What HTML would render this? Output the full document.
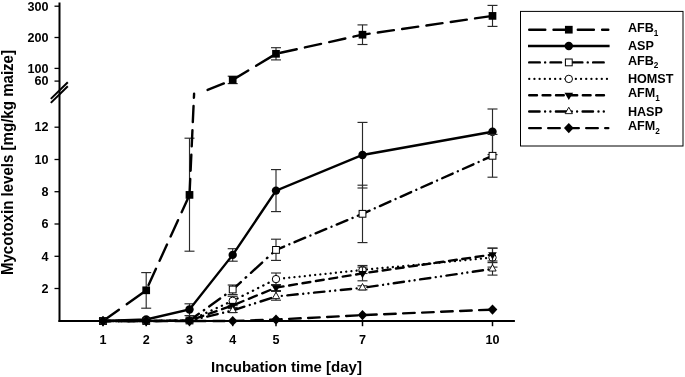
<!DOCTYPE html>
<html><head><meta charset="utf-8"><title>Mycotoxin levels</title>
<style>
html,body{margin:0;padding:0;background:#fff;}
svg{display:block;}
text{font-family:"Liberation Sans",Arial,sans-serif;font-weight:bold;fill:#000;}
.t12{font-size:12.6px;}
.t15{font-size:15px;}
</style></head><body>
<svg width="685" height="377" viewBox="0 0 685 377">
<rect width="685" height="377" fill="#fff"/>
<line x1="59.50" y1="2.50" x2="59.50" y2="322.10" stroke="#000" stroke-width="2" />
<line x1="58.50" y1="321.10" x2="514.90" y2="321.10" stroke="#000" stroke-width="2" />
<line x1="54.50" y1="6.20" x2="59.50" y2="6.20" stroke="#000" stroke-width="1.3" />
<line x1="54.50" y1="37.50" x2="59.50" y2="37.50" stroke="#000" stroke-width="1.3" />
<line x1="54.50" y1="68.40" x2="59.50" y2="68.40" stroke="#000" stroke-width="1.3" />
<line x1="54.50" y1="81.10" x2="59.50" y2="81.10" stroke="#000" stroke-width="1.3" />
<line x1="54.50" y1="127.20" x2="59.50" y2="127.20" stroke="#000" stroke-width="1.3" />
<line x1="54.50" y1="159.50" x2="59.50" y2="159.50" stroke="#000" stroke-width="1.3" />
<line x1="54.50" y1="191.70" x2="59.50" y2="191.70" stroke="#000" stroke-width="1.3" />
<line x1="54.50" y1="224.00" x2="59.50" y2="224.00" stroke="#000" stroke-width="1.3" />
<line x1="54.50" y1="256.30" x2="59.50" y2="256.30" stroke="#000" stroke-width="1.3" />
<line x1="54.50" y1="288.50" x2="59.50" y2="288.50" stroke="#000" stroke-width="1.3" />
<line x1="103.00" y1="321.10" x2="103.00" y2="326.20" stroke="#000" stroke-width="1.5" />
<line x1="146.20" y1="321.10" x2="146.20" y2="326.20" stroke="#000" stroke-width="1.5" />
<line x1="189.50" y1="321.10" x2="189.50" y2="326.20" stroke="#000" stroke-width="1.5" />
<line x1="232.70" y1="321.10" x2="232.70" y2="326.20" stroke="#000" stroke-width="1.5" />
<line x1="276.00" y1="321.10" x2="276.00" y2="326.20" stroke="#000" stroke-width="1.5" />
<line x1="362.50" y1="321.10" x2="362.50" y2="326.20" stroke="#000" stroke-width="1.5" />
<line x1="492.50" y1="321.10" x2="492.50" y2="326.20" stroke="#000" stroke-width="1.5" />
<line x1="50.80" y1="98.90" x2="67.80" y2="82.20" stroke="#000" stroke-width="2" />
<line x1="50.80" y1="102.90" x2="67.80" y2="86.30" stroke="#000" stroke-width="2" />
<line x1="146.20" y1="272.60" x2="146.20" y2="308.20" stroke="#2a2a2a" stroke-width="1.15" />
<line x1="141.20" y1="272.60" x2="151.20" y2="272.60" stroke="#2a2a2a" stroke-width="1.15" />
<line x1="141.20" y1="308.20" x2="151.20" y2="308.20" stroke="#2a2a2a" stroke-width="1.15" />
<line x1="189.50" y1="138.20" x2="189.50" y2="251.20" stroke="#2a2a2a" stroke-width="1.15" />
<line x1="184.50" y1="138.20" x2="194.50" y2="138.20" stroke="#2a2a2a" stroke-width="1.15" />
<line x1="184.50" y1="251.20" x2="194.50" y2="251.20" stroke="#2a2a2a" stroke-width="1.15" />
<line x1="232.70" y1="76.20" x2="232.70" y2="83.60" stroke="#2a2a2a" stroke-width="1.15" />
<line x1="227.70" y1="76.20" x2="237.70" y2="76.20" stroke="#2a2a2a" stroke-width="1.15" />
<line x1="227.70" y1="83.60" x2="237.70" y2="83.60" stroke="#2a2a2a" stroke-width="1.15" />
<line x1="276.00" y1="47.70" x2="276.00" y2="59.90" stroke="#2a2a2a" stroke-width="1.15" />
<line x1="271.00" y1="47.70" x2="281.00" y2="47.70" stroke="#2a2a2a" stroke-width="1.15" />
<line x1="271.00" y1="59.90" x2="281.00" y2="59.90" stroke="#2a2a2a" stroke-width="1.15" />
<line x1="362.50" y1="24.90" x2="362.50" y2="44.50" stroke="#2a2a2a" stroke-width="1.15" />
<line x1="357.50" y1="24.90" x2="367.50" y2="24.90" stroke="#2a2a2a" stroke-width="1.15" />
<line x1="357.50" y1="44.50" x2="367.50" y2="44.50" stroke="#2a2a2a" stroke-width="1.15" />
<line x1="492.50" y1="5.40" x2="492.50" y2="26.40" stroke="#2a2a2a" stroke-width="1.15" />
<line x1="487.50" y1="5.40" x2="497.50" y2="5.40" stroke="#2a2a2a" stroke-width="1.15" />
<line x1="487.50" y1="26.40" x2="497.50" y2="26.40" stroke="#2a2a2a" stroke-width="1.15" />
<line x1="103.00" y1="321.00" x2="146.20" y2="290.30" stroke="#000" stroke-width="2.4" stroke-dasharray="20.296 9.515" stroke-dashoffset="0.763" stroke-linecap="round"/>
<line x1="146.20" y1="290.30" x2="189.50" y2="194.90" stroke="#000" stroke-width="2.4" stroke-dasharray="17.916 8.769" stroke-dashoffset="20.983" stroke-linecap="round"/>
<line x1="189.50" y1="194.90" x2="194.10" y2="93.60" stroke="#000" stroke-width="2.4" stroke-dasharray="16.119 8.206" stroke-dashoffset="0.101" stroke-linecap="round"/>
<line x1="206.50" y1="90.39" x2="232.70" y2="79.90" stroke="#000" stroke-width="2.4" stroke-dasharray="17.528 8.648" stroke-dashoffset="-1.200" stroke-linecap="round"/>
<line x1="232.70" y1="79.90" x2="276.00" y2="53.80" stroke="#000" stroke-width="2.4" stroke-dasharray="19.201 9.172" stroke-dashoffset="1.018" stroke-linecap="round"/>
<line x1="276.00" y1="53.80" x2="362.50" y2="34.70" stroke="#000" stroke-width="2.4" stroke-dasharray="16.546 8.340" stroke-dashoffset="20.203" stroke-linecap="round"/>
<line x1="362.50" y1="34.70" x2="492.50" y2="15.90" stroke="#000" stroke-width="2.4" stroke-dasharray="16.292 8.260" stroke-dashoffset="9.106" stroke-linecap="round"/>
<rect x="99.15" y="317.15" width="7.7" height="7.7" fill="#000"/>
<rect x="142.35" y="286.45" width="7.7" height="7.7" fill="#000"/>
<rect x="185.65" y="191.05" width="7.7" height="7.7" fill="#000"/>
<rect x="228.85" y="76.05" width="7.7" height="7.7" fill="#000"/>
<rect x="272.15" y="49.95" width="7.7" height="7.7" fill="#000"/>
<rect x="358.65" y="30.85" width="7.7" height="7.7" fill="#000"/>
<rect x="488.65" y="12.05" width="7.7" height="7.7" fill="#000"/>
<line x1="189.50" y1="303.80" x2="189.50" y2="315.60" stroke="#2a2a2a" stroke-width="1.15" />
<line x1="184.50" y1="303.80" x2="194.50" y2="303.80" stroke="#2a2a2a" stroke-width="1.15" />
<line x1="184.50" y1="315.60" x2="194.50" y2="315.60" stroke="#2a2a2a" stroke-width="1.15" />
<line x1="232.70" y1="248.70" x2="232.70" y2="261.20" stroke="#2a2a2a" stroke-width="1.15" />
<line x1="227.70" y1="248.70" x2="237.70" y2="248.70" stroke="#2a2a2a" stroke-width="1.15" />
<line x1="227.70" y1="261.20" x2="237.70" y2="261.20" stroke="#2a2a2a" stroke-width="1.15" />
<line x1="276.00" y1="169.60" x2="276.00" y2="211.60" stroke="#2a2a2a" stroke-width="1.15" />
<line x1="271.00" y1="169.60" x2="281.00" y2="169.60" stroke="#2a2a2a" stroke-width="1.15" />
<line x1="271.00" y1="211.60" x2="281.00" y2="211.60" stroke="#2a2a2a" stroke-width="1.15" />
<line x1="362.50" y1="122.40" x2="362.50" y2="188.00" stroke="#2a2a2a" stroke-width="1.15" />
<line x1="357.50" y1="122.40" x2="367.50" y2="122.40" stroke="#2a2a2a" stroke-width="1.15" />
<line x1="357.50" y1="188.00" x2="367.50" y2="188.00" stroke="#2a2a2a" stroke-width="1.15" />
<line x1="492.50" y1="109.00" x2="492.50" y2="154.60" stroke="#2a2a2a" stroke-width="1.15" />
<line x1="487.50" y1="109.00" x2="497.50" y2="109.00" stroke="#2a2a2a" stroke-width="1.15" />
<line x1="487.50" y1="154.60" x2="497.50" y2="154.60" stroke="#2a2a2a" stroke-width="1.15" />
<polyline points="103.00,321.00 146.20,319.50 189.50,309.50 232.70,254.90 276.00,190.60 362.50,155.00 492.50,131.80" fill="none" stroke="#000" stroke-width="2.4"/>
<circle cx="103.00" cy="321.00" r="4.2" fill="#000"/>
<circle cx="146.20" cy="319.50" r="4.2" fill="#000"/>
<circle cx="189.50" cy="309.50" r="4.2" fill="#000"/>
<circle cx="232.70" cy="254.90" r="4.2" fill="#000"/>
<circle cx="276.00" cy="190.60" r="4.2" fill="#000"/>
<circle cx="362.50" cy="155.00" r="4.2" fill="#000"/>
<circle cx="492.50" cy="131.80" r="4.2" fill="#000"/>
<line x1="232.70" y1="285.00" x2="232.70" y2="294.60" stroke="#2a2a2a" stroke-width="1.15" />
<line x1="227.70" y1="285.00" x2="237.70" y2="285.00" stroke="#2a2a2a" stroke-width="1.15" />
<line x1="227.70" y1="294.60" x2="237.70" y2="294.60" stroke="#2a2a2a" stroke-width="1.15" />
<line x1="276.00" y1="239.20" x2="276.00" y2="260.40" stroke="#2a2a2a" stroke-width="1.15" />
<line x1="271.00" y1="239.20" x2="281.00" y2="239.20" stroke="#2a2a2a" stroke-width="1.15" />
<line x1="271.00" y1="260.40" x2="281.00" y2="260.40" stroke="#2a2a2a" stroke-width="1.15" />
<line x1="362.50" y1="185.20" x2="362.50" y2="242.60" stroke="#2a2a2a" stroke-width="1.15" />
<line x1="357.50" y1="185.20" x2="367.50" y2="185.20" stroke="#2a2a2a" stroke-width="1.15" />
<line x1="357.50" y1="242.60" x2="367.50" y2="242.60" stroke="#2a2a2a" stroke-width="1.15" />
<line x1="492.50" y1="134.40" x2="492.50" y2="177.20" stroke="#2a2a2a" stroke-width="1.15" />
<line x1="487.50" y1="134.40" x2="497.50" y2="134.40" stroke="#2a2a2a" stroke-width="1.15" />
<line x1="487.50" y1="177.20" x2="497.50" y2="177.20" stroke="#2a2a2a" stroke-width="1.15" />
<line x1="103.00" y1="321.00" x2="146.20" y2="321.00" stroke="#000" stroke-width="2.4" stroke-dasharray="10.600 5.345 0.010 5.345" stroke-dashoffset="0.150" stroke-linecap="round"/>
<line x1="146.20" y1="321.00" x2="189.50" y2="320.50" stroke="#000" stroke-width="2.4" stroke-dasharray="10.601 5.345 0.010 5.345" stroke-dashoffset="0.750" stroke-linecap="round"/>
<line x1="189.50" y1="320.50" x2="232.70" y2="289.50" stroke="#000" stroke-width="2.4" stroke-dasharray="13.601 6.092 0.431 6.092" stroke-dashoffset="2.062" stroke-linecap="round"/>
<line x1="232.70" y1="289.50" x2="276.00" y2="249.90" stroke="#000" stroke-width="2.4" stroke-dasharray="15.217 6.465 0.717 6.465" stroke-dashoffset="4.153" stroke-linecap="round"/>
<line x1="276.00" y1="249.90" x2="362.50" y2="213.80" stroke="#000" stroke-width="2.4" stroke-dasharray="11.546 5.618 0.067 5.618" stroke-dashoffset="2.769" stroke-linecap="round"/>
<line x1="362.50" y1="213.80" x2="492.50" y2="155.80" stroke="#000" stroke-width="2.4" stroke-dasharray="11.479 5.603 0.056 5.603" stroke-dashoffset="3.711" stroke-linecap="round"/>
<rect x="99.60" y="317.60" width="6.8" height="6.8" fill="#fff" stroke="#000" stroke-width="1"/>
<rect x="142.80" y="317.60" width="6.8" height="6.8" fill="#fff" stroke="#000" stroke-width="1"/>
<rect x="186.10" y="317.10" width="6.8" height="6.8" fill="#fff" stroke="#000" stroke-width="1"/>
<rect x="229.30" y="286.10" width="6.8" height="6.8" fill="#fff" stroke="#000" stroke-width="1"/>
<rect x="272.60" y="246.50" width="6.8" height="6.8" fill="#fff" stroke="#000" stroke-width="1"/>
<rect x="359.10" y="210.40" width="6.8" height="6.8" fill="#fff" stroke="#000" stroke-width="1"/>
<rect x="489.10" y="152.40" width="6.8" height="6.8" fill="#fff" stroke="#000" stroke-width="1"/>
<line x1="232.70" y1="296.30" x2="232.70" y2="305.30" stroke="#2a2a2a" stroke-width="1.15" />
<line x1="227.70" y1="296.30" x2="237.70" y2="296.30" stroke="#2a2a2a" stroke-width="1.15" />
<line x1="227.70" y1="305.30" x2="237.70" y2="305.30" stroke="#2a2a2a" stroke-width="1.15" />
<line x1="276.00" y1="273.00" x2="276.00" y2="285.20" stroke="#2a2a2a" stroke-width="1.15" />
<line x1="271.00" y1="273.00" x2="281.00" y2="273.00" stroke="#2a2a2a" stroke-width="1.15" />
<line x1="271.00" y1="285.20" x2="281.00" y2="285.20" stroke="#2a2a2a" stroke-width="1.15" />
<line x1="362.50" y1="265.50" x2="362.50" y2="273.50" stroke="#2a2a2a" stroke-width="1.15" />
<line x1="357.50" y1="265.50" x2="367.50" y2="265.50" stroke="#2a2a2a" stroke-width="1.15" />
<line x1="357.50" y1="273.50" x2="367.50" y2="273.50" stroke="#2a2a2a" stroke-width="1.15" />
<line x1="492.50" y1="248.10" x2="492.50" y2="267.10" stroke="#2a2a2a" stroke-width="1.15" />
<line x1="487.50" y1="248.10" x2="497.50" y2="248.10" stroke="#2a2a2a" stroke-width="1.15" />
<line x1="487.50" y1="267.10" x2="497.50" y2="267.10" stroke="#2a2a2a" stroke-width="1.15" />
<line x1="103.00" y1="321.00" x2="146.20" y2="321.00" stroke="#000" stroke-width="2.3" stroke-dasharray="0.010 5.170" stroke-dashoffset="0.240" stroke-linecap="round"/>
<line x1="146.20" y1="321.00" x2="189.50" y2="320.50" stroke="#000" stroke-width="2.3" stroke-dasharray="0.010 5.170" stroke-dashoffset="2.000" stroke-linecap="round"/>
<line x1="189.50" y1="320.50" x2="232.70" y2="300.80" stroke="#000" stroke-width="2.3" stroke-dasharray="0.228 5.465" stroke-dashoffset="4.356" stroke-linecap="round"/>
<line x1="232.70" y1="300.80" x2="276.00" y2="279.10" stroke="#000" stroke-width="2.3" stroke-dasharray="0.273 5.521" stroke-dashoffset="0.628" stroke-linecap="round"/>
<line x1="276.00" y1="279.10" x2="362.50" y2="269.90" stroke="#000" stroke-width="2.3" stroke-dasharray="0.013 5.196" stroke-dashoffset="2.319" stroke-linecap="round"/>
<line x1="362.50" y1="269.90" x2="492.50" y2="257.60" stroke="#000" stroke-width="2.3" stroke-dasharray="0.010 5.193" stroke-dashoffset="0.748" stroke-linecap="round"/>
<circle cx="103.00" cy="321.00" r="3.7" fill="#fff" stroke="#000" stroke-width="1"/>
<circle cx="146.20" cy="321.00" r="3.7" fill="#fff" stroke="#000" stroke-width="1"/>
<circle cx="189.50" cy="320.50" r="3.7" fill="#fff" stroke="#000" stroke-width="1"/>
<circle cx="232.70" cy="300.80" r="3.7" fill="#fff" stroke="#000" stroke-width="1"/>
<circle cx="276.00" cy="279.10" r="3.7" fill="#fff" stroke="#000" stroke-width="1"/>
<circle cx="362.50" cy="269.90" r="3.7" fill="#fff" stroke="#000" stroke-width="1"/>
<circle cx="492.50" cy="257.60" r="3.7" fill="#fff" stroke="#000" stroke-width="1"/>
<line x1="232.70" y1="303.40" x2="232.70" y2="307.40" stroke="#2a2a2a" stroke-width="1.15" />
<line x1="227.70" y1="303.40" x2="237.70" y2="303.40" stroke="#2a2a2a" stroke-width="1.15" />
<line x1="227.70" y1="307.40" x2="237.70" y2="307.40" stroke="#2a2a2a" stroke-width="1.15" />
<line x1="276.00" y1="284.60" x2="276.00" y2="290.60" stroke="#2a2a2a" stroke-width="1.15" />
<line x1="271.00" y1="284.60" x2="281.00" y2="284.60" stroke="#2a2a2a" stroke-width="1.15" />
<line x1="271.00" y1="290.60" x2="281.00" y2="290.60" stroke="#2a2a2a" stroke-width="1.15" />
<line x1="362.50" y1="267.10" x2="362.50" y2="280.80" stroke="#2a2a2a" stroke-width="1.15" />
<line x1="357.50" y1="267.10" x2="367.50" y2="267.10" stroke="#2a2a2a" stroke-width="1.15" />
<line x1="357.50" y1="280.80" x2="367.50" y2="280.80" stroke="#2a2a2a" stroke-width="1.15" />
<line x1="492.50" y1="248.20" x2="492.50" y2="261.00" stroke="#2a2a2a" stroke-width="1.15" />
<line x1="487.50" y1="248.20" x2="497.50" y2="248.20" stroke="#2a2a2a" stroke-width="1.15" />
<line x1="487.50" y1="261.00" x2="497.50" y2="261.00" stroke="#2a2a2a" stroke-width="1.15" />
<line x1="103.00" y1="321.00" x2="146.20" y2="321.00" stroke="#000" stroke-width="2.4" stroke-dasharray="7.800 5.600" stroke-dashoffset="1.500" stroke-linecap="round"/>
<line x1="146.20" y1="321.00" x2="189.50" y2="320.70" stroke="#000" stroke-width="2.4" stroke-dasharray="7.800 5.600" stroke-dashoffset="4.500" stroke-linecap="round"/>
<line x1="189.50" y1="320.70" x2="232.70" y2="305.40" stroke="#000" stroke-width="2.4" stroke-dasharray="8.421 5.795" stroke-dashoffset="8.136" stroke-linecap="round"/>
<line x1="232.70" y1="305.40" x2="276.00" y2="287.60" stroke="#000" stroke-width="2.4" stroke-dasharray="8.628 5.860" stroke-dashoffset="11.558" stroke-linecap="round"/>
<line x1="276.00" y1="287.60" x2="362.50" y2="273.40" stroke="#000" stroke-width="2.4" stroke-dasharray="7.937 5.643" stroke-dashoffset="0.320" stroke-linecap="round"/>
<line x1="362.50" y1="273.40" x2="492.50" y2="254.60" stroke="#000" stroke-width="2.4" stroke-dasharray="7.803 5.601" stroke-dashoffset="6.402" stroke-linecap="round"/>
<polygon points="98.70,318.57 107.30,318.57 103.00,325.87" fill="#000"/>
<polygon points="141.90,318.57 150.50,318.57 146.20,325.87" fill="#000"/>
<polygon points="185.20,318.27 193.80,318.27 189.50,325.57" fill="#000"/>
<polygon points="228.40,302.97 237.00,302.97 232.70,310.27" fill="#000"/>
<polygon points="271.70,285.17 280.30,285.17 276.00,292.47" fill="#000"/>
<polygon points="358.20,270.97 366.80,270.97 362.50,278.27" fill="#000"/>
<polygon points="488.20,252.17 496.80,252.17 492.50,259.47" fill="#000"/>
<line x1="232.70" y1="308.50" x2="232.70" y2="312.50" stroke="#2a2a2a" stroke-width="1.15" />
<line x1="227.70" y1="308.50" x2="237.70" y2="308.50" stroke="#2a2a2a" stroke-width="1.15" />
<line x1="227.70" y1="312.50" x2="237.70" y2="312.50" stroke="#2a2a2a" stroke-width="1.15" />
<line x1="276.00" y1="291.40" x2="276.00" y2="300.20" stroke="#2a2a2a" stroke-width="1.15" />
<line x1="271.00" y1="291.40" x2="281.00" y2="291.40" stroke="#2a2a2a" stroke-width="1.15" />
<line x1="271.00" y1="300.20" x2="281.00" y2="300.20" stroke="#2a2a2a" stroke-width="1.15" />
<line x1="362.50" y1="285.80" x2="362.50" y2="289.80" stroke="#2a2a2a" stroke-width="1.15" />
<line x1="357.50" y1="285.80" x2="367.50" y2="285.80" stroke="#2a2a2a" stroke-width="1.15" />
<line x1="357.50" y1="289.80" x2="367.50" y2="289.80" stroke="#2a2a2a" stroke-width="1.15" />
<line x1="492.50" y1="262.60" x2="492.50" y2="275.10" stroke="#2a2a2a" stroke-width="1.15" />
<line x1="487.50" y1="262.60" x2="497.50" y2="262.60" stroke="#2a2a2a" stroke-width="1.15" />
<line x1="487.50" y1="275.10" x2="497.50" y2="275.10" stroke="#2a2a2a" stroke-width="1.15" />
<line x1="103.00" y1="321.00" x2="146.20" y2="321.00" stroke="#000" stroke-width="2.4" stroke-dasharray="10.400 5.495 0.010 5.290 0.010 5.495" stroke-dashoffset="2.600" stroke-linecap="round"/>
<line x1="146.20" y1="321.00" x2="189.50" y2="320.80" stroke="#000" stroke-width="2.4" stroke-dasharray="10.400 5.495 0.010 5.290 0.010 5.495" stroke-dashoffset="19.100" stroke-linecap="round"/>
<line x1="189.50" y1="320.80" x2="232.70" y2="310.50" stroke="#000" stroke-width="2.4" stroke-dasharray="10.759 5.616 0.010 5.439 0.010 5.616" stroke-dashoffset="9.286" stroke-linecap="round"/>
<line x1="232.70" y1="310.50" x2="276.00" y2="296.50" stroke="#000" stroke-width="2.4" stroke-dasharray="11.052 5.714 0.010 5.560 0.010 5.714" stroke-dashoffset="-1.200" stroke-linecap="round"/>
<line x1="276.00" y1="296.50" x2="362.50" y2="287.80" stroke="#000" stroke-width="2.4" stroke-dasharray="10.465 5.517 0.010 5.317 0.010 5.517" stroke-dashoffset="15.484" stroke-linecap="round"/>
<line x1="362.50" y1="287.80" x2="492.50" y2="268.90" stroke="#000" stroke-width="2.4" stroke-dasharray="10.366 5.484 0.010 5.276 0.010 5.484" stroke-dashoffset="21.740" stroke-linecap="round"/>
<polygon points="99.35,323.13 106.65,323.13 103.00,316.73" fill="#fff" stroke="#000" stroke-width="0.9"/>
<polygon points="142.55,323.13 149.85,323.13 146.20,316.73" fill="#fff" stroke="#000" stroke-width="0.9"/>
<polygon points="185.85,322.93 193.15,322.93 189.50,316.53" fill="#fff" stroke="#000" stroke-width="0.9"/>
<polygon points="229.05,312.63 236.35,312.63 232.70,306.23" fill="#fff" stroke="#000" stroke-width="0.9"/>
<polygon points="272.35,298.63 279.65,298.63 276.00,292.23" fill="#fff" stroke="#000" stroke-width="0.9"/>
<polygon points="358.85,289.93 366.15,289.93 362.50,283.53" fill="#fff" stroke="#000" stroke-width="0.9"/>
<polygon points="488.85,271.03 496.15,271.03 492.50,264.63" fill="#fff" stroke="#000" stroke-width="0.9"/>
<line x1="103.00" y1="321.00" x2="146.20" y2="321.00" stroke="#000" stroke-width="2.4" stroke-dasharray="11.600 7.400" stroke-dashoffset="3.900" stroke-linecap="round"/>
<line x1="146.20" y1="321.00" x2="189.50" y2="321.00" stroke="#000" stroke-width="2.4" stroke-dasharray="11.600 7.400" stroke-dashoffset="9.100" stroke-linecap="round"/>
<line x1="189.50" y1="321.00" x2="232.70" y2="321.00" stroke="#000" stroke-width="2.4" stroke-dasharray="11.600 7.400" stroke-dashoffset="14.400" stroke-linecap="round"/>
<line x1="232.70" y1="321.00" x2="276.00" y2="319.60" stroke="#000" stroke-width="2.4" stroke-dasharray="11.607 7.403" stroke-dashoffset="0.601" stroke-linecap="round"/>
<line x1="276.00" y1="319.60" x2="362.50" y2="315.10" stroke="#000" stroke-width="2.4" stroke-dasharray="11.619 7.407" stroke-dashoffset="5.910" stroke-linecap="round"/>
<line x1="362.50" y1="315.10" x2="492.50" y2="309.60" stroke="#000" stroke-width="2.4" stroke-dasharray="11.613 7.404" stroke-dashoffset="16.416" stroke-linecap="round"/>
<polygon points="98.15,321.00 103.00,315.90 107.85,321.00 103.00,326.10" fill="#000"/>
<polygon points="141.35,321.00 146.20,315.90 151.05,321.00 146.20,326.10" fill="#000"/>
<polygon points="184.65,321.00 189.50,315.90 194.35,321.00 189.50,326.10" fill="#000"/>
<polygon points="227.85,321.00 232.70,315.90 237.55,321.00 232.70,326.10" fill="#000"/>
<polygon points="271.15,319.60 276.00,314.50 280.85,319.60 276.00,324.70" fill="#000"/>
<polygon points="357.65,315.10 362.50,310.00 367.35,315.10 362.50,320.20" fill="#000"/>
<polygon points="487.65,309.60 492.50,304.50 497.35,309.60 492.50,314.70" fill="#000"/>
<rect x="520.5" y="11.4" width="162.5" height="134.6" fill="#fff" stroke="#000" stroke-width="1"/>
<line x1="528.00" y1="29.70" x2="608.30" y2="29.70" stroke="#000" stroke-width="2.4" stroke-dasharray="16.100 8.200" stroke-dashoffset="-1.200" stroke-linecap="round"/>
<rect x="564.95" y="25.85" width="7.7" height="7.7" fill="#000"/>
<line x1="528.0" y1="46.0" x2="609.6" y2="46.0" stroke="#000" stroke-width="2.4"/>
<circle cx="568.80" cy="46.00" r="4.2" fill="#000"/>
<line x1="528.00" y1="62.40" x2="605.50" y2="62.40" stroke="#000" stroke-width="2.4" stroke-dasharray="10.600 5.345 0.010 5.345" stroke-dashoffset="-1.200" stroke-linecap="round"/>
<rect x="565.40" y="59.00" width="6.8" height="6.8" fill="#fff" stroke="#000" stroke-width="1"/>
<line x1="528.10" y1="78.90" x2="608.50" y2="78.90" stroke="#000" stroke-width="2.3" stroke-dasharray="0.010 5.170" stroke-dashoffset="-1.150" stroke-linecap="round"/>
<circle cx="568.80" cy="78.90" r="3.7" fill="#fff" stroke="#000" stroke-width="1"/>
<line x1="528.00" y1="95.20" x2="605.50" y2="95.20" stroke="#000" stroke-width="2.4" stroke-dasharray="7.800 5.600" stroke-dashoffset="-1.200" stroke-linecap="round"/>
<polygon points="564.50,92.77 573.10,92.77 568.80,100.07" fill="#000"/>
<line x1="528.00" y1="111.50" x2="608.50" y2="111.50" stroke="#000" stroke-width="2.4" stroke-dasharray="10.400 5.495 0.010 5.290 0.010 5.495" stroke-dashoffset="-1.200" stroke-linecap="round"/>
<polygon points="565.15,113.63 572.45,113.63 568.80,107.23" fill="#fff" stroke="#000" stroke-width="0.9"/>
<line x1="528.00" y1="128.10" x2="608.30" y2="128.10" stroke="#000" stroke-width="2.4" stroke-dasharray="11.600 7.400" stroke-dashoffset="-1.200" stroke-linecap="round"/>
<polygon points="563.95,128.10 568.80,123.00 573.65,128.10 568.80,133.20" fill="#000"/>
<text x="627.9" y="31.9" class="t12">AFB<tspan font-size="8.2" dy="3.7">1</tspan></text>
<text x="627.9" y="50.1" class="t12">ASP</text>
<text x="627.9" y="64.6" class="t12">AFB<tspan font-size="8.2" dy="3.7">2</tspan></text>
<text x="627.9" y="83.0" class="t12">HOMST</text>
<text x="627.9" y="97.4" class="t12">AFM<tspan font-size="8.2" dy="3.7">1</tspan></text>
<text x="627.9" y="115.6" class="t12">HASP</text>
<text x="627.9" y="130.3" class="t12">AFM<tspan font-size="8.2" dy="3.7">2</tspan></text>
<text x="48.4" y="10.5" text-anchor="end" class="t12">300</text>
<text x="48.4" y="41.8" text-anchor="end" class="t12">200</text>
<text x="48.4" y="72.7" text-anchor="end" class="t12">100</text>
<text x="48.4" y="85.4" text-anchor="end" class="t12">60</text>
<text x="48.4" y="131.1" text-anchor="end" class="t12">12</text>
<text x="48.4" y="163.8" text-anchor="end" class="t12">10</text>
<text x="48.4" y="196.0" text-anchor="end" class="t12">8</text>
<text x="48.4" y="228.3" text-anchor="end" class="t12">6</text>
<text x="48.4" y="260.6" text-anchor="end" class="t12">4</text>
<text x="48.4" y="292.8" text-anchor="end" class="t12">2</text>
<text x="103.0" y="343.6" text-anchor="middle" class="t12">1</text>
<text x="146.2" y="343.6" text-anchor="middle" class="t12">2</text>
<text x="189.5" y="343.6" text-anchor="middle" class="t12">3</text>
<text x="232.7" y="343.6" text-anchor="middle" class="t12">4</text>
<text x="276.0" y="343.6" text-anchor="middle" class="t12">5</text>
<text x="362.5" y="343.6" text-anchor="middle" class="t12">7</text>
<text x="492.5" y="343.6" text-anchor="middle" class="t12">10</text>
<text x="211.1" y="371.8" class="t15">Incubation time [day]</text>
<text transform="translate(13.4,275.1) rotate(-90) scale(1,1.06)" class="t15" style="font-size:15.08px">Mycotoxin levels [mg/kg maize]</text>
</svg>
</body></html>
